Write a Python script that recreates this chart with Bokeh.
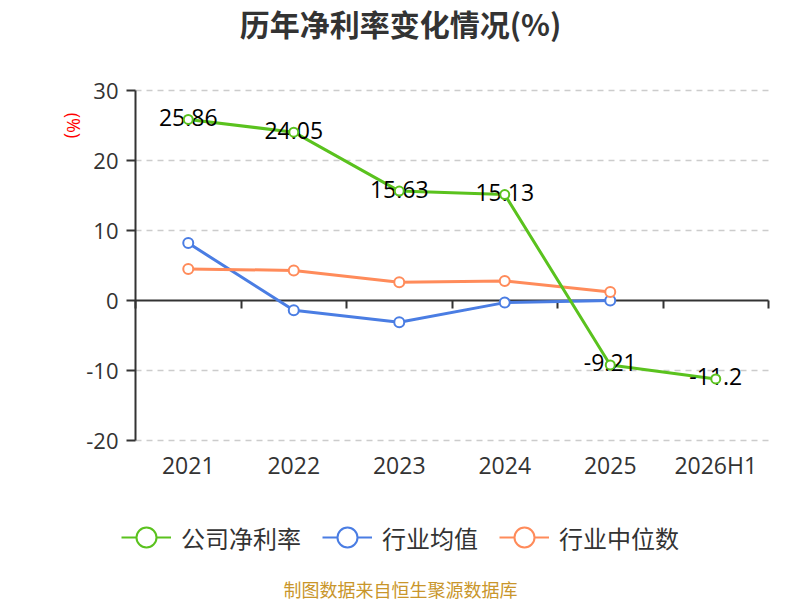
import numpy as np
from bokeh.plotting import figure
from bokeh.models import (Range1d, FixedTicker, LinearAxis, Label, Legend, LegendItem, Grid)
from bokeh.embed import file_html
from bokeh.resources import INLINE

# ---------------- data ----------------
categories = ["2021", "2022", "2023", "2024", "2025", "2026H1"]
company_net_margin = [25.86, 24.05, 15.63, 15.13, -9.21, -11.2]
industry_mean = [8.2, -1.4, -3.1, -0.3, 0.0]
industry_median = [4.5, 4.3, 2.6, 2.8, 1.2]
y_ticks = [-20, -10, 0, 10, 20, 30]
series_names = ["公司净利率", "行业均值", "行业中位数"]
title_text = "历年净利率变化情况(%)"
unit_text = "(%)"
source_text = "制图数据来自恒生聚源数据库"

# ---------------- style ----------------
GREEN = "#5ac21e"
BLUE = "#4a7de3"
ORANGE = "#ff8b5a"
TXT = "#333333"
CJK = "Noto Sans CJK SC"
NUM = "Open Sans"

W, H = 800, 600
# plot area (axes box) in page px
AL, AR, AT, AB = 135, 768, 90, 440
YMIN, YMAX = y_ticks[0], y_ticks[-1]
NCAT = len(categories)
px_x = (AR - AL) / NCAT
px_y = (AB - AT) / (YMAX - YMIN)

def dx(page_x):
    return (page_x - AL) / px_x

def dy(page_y):
    return YMAX - (page_y - AT) / px_y

p = figure(width=W, height=H, output_backend="svg", toolbar_location=None,
           x_range=Range1d(dx(0), dx(W)), y_range=Range1d(dy(H), dy(0)),
           min_border=0, x_axis_type=None, y_axis_type=None)
p.outline_line_color = None
p.background_fill_color = "white"
p.border_fill_color = "white"

xs = np.arange(NCAT) + 0.5

# grid
grid = Grid(dimension=1, ticker=FixedTicker(ticks=[t for t in y_ticks if t != 0]),
            bounds=(YMIN, YMAX), cross_bounds=(0, NCAT))
grid.grid_line_color = "#cccccc"
grid.grid_line_dash = "6 5"
grid.grid_line_width = 1.5
p.add_layout(grid)

# y axis
yax = LinearAxis(fixed_location=0, bounds=(YMIN, YMAX), ticker=FixedTicker(ticks=y_ticks),
                 major_label_overrides={float(t): str(t) for t in y_ticks})
yax.axis_line_color = TXT
yax.axis_line_width = 2
yax.major_tick_line_color = TXT
yax.major_tick_line_width = 2
yax.major_tick_out = 9
yax.major_tick_in = 0
yax.minor_tick_line_color = None
yax.major_label_standoff = 8
yax.major_label_text_font = NUM
yax.major_label_text_font_size = "22px"
yax.major_label_text_color = TXT
p.add_layout(yax, "left")

# category labels
xax = LinearAxis(fixed_location=YMIN, ticker=FixedTicker(ticks=list(xs)),
                 major_label_overrides={float(x): c for x, c in zip(xs, categories)})
xax.axis_line_color = None
xax.major_tick_line_color = None
xax.minor_tick_line_color = None
xax.major_tick_out = 0
xax.major_tick_in = 0
xax.major_label_standoff = 8
xax.major_label_text_font = NUM
xax.major_label_text_font_size = "23px"
xax.major_label_text_color = TXT
p.add_layout(xax, "below")

# zero line with downward ticks at category boundaries
bounds = list(range(NCAT + 1))
zax = LinearAxis(fixed_location=0, bounds=(0, NCAT), ticker=FixedTicker(ticks=bounds),
                 major_label_overrides={float(b): "" for b in bounds})
zax.axis_line_color = TXT
zax.axis_line_width = 2
zax.major_tick_line_color = TXT
zax.major_tick_line_width = 2
zax.major_tick_out = 8
zax.major_tick_in = 0
zax.minor_tick_line_color = None
zax.major_label_text_font_size = "1px"
zax.level = "underlay"
p.add_layout(zax, "below")

# series
n_ind = len(industry_mean)
l_blue = p.line(xs[:n_ind], industry_mean, line_color=BLUE, line_width=3)
l_orange = p.line(xs[:n_ind], industry_median, line_color=ORANGE, line_width=3)
l_green = p.line(xs, company_net_margin, line_color=GREEN, line_width=3)

p.text(xs, company_net_margin, text=[str(v) for v in company_net_margin],
       text_align="center", text_baseline="middle", text_font_size="23px",
       text_font={"value": NUM}, text_color="black", y_offset=-2)

s_blue = p.scatter(xs[:n_ind], industry_mean, size=10, fill_color="white",
                   line_color=BLUE, line_width=2)
s_orange = p.scatter(xs[:n_ind], industry_median, size=10, fill_color="white",
                     line_color=ORANGE, line_width=2)
s_green = p.scatter(xs, company_net_margin, size=9, fill_color="white",
                    line_color=GREEN, line_width=2)

# legend keys (thinner line, as in the reference legend; no visible data)
legend_keys = []
for c in (GREEN, BLUE, ORANGE):
    lk = p.line([0], [np.nan], line_color=c, line_width=2)
    sk = p.scatter([0], [np.nan], fill_color="white", line_color=c, line_width=2)
    legend_keys.append([lk, sk])

GH = 54
legend = Legend(items=[LegendItem(label=n, renderers=r)
                       for n, r in zip(series_names, legend_keys)],
                orientation="horizontal", location=(121, H - 537 - GH / 2))
legend.label_text_font = CJK
legend.label_text_font_size = "24px"
legend.label_text_color = TXT
legend.glyph_width = 50
legend.glyph_height = GH
legend.label_height = GH
legend.label_standoff = 10
legend.spacing = 21
legend.padding = 0
legend.margin = 0
legend.border_line_color = None
legend.background_fill_alpha = 0
p.add_layout(legend, "center")

# texts around the plot area
p.add_layout(Label(x=dx(400), y=dy(22), text=title_text, text_align="center",
                   text_baseline="middle", text_font=CJK, text_font_size="30px",
                   text_font_style="bold", text_color=TXT))
p.add_layout(Label(x=dx(73), y=dy(125), text=unit_text, text_align="center",
                   text_baseline="middle", text_font=NUM, text_font_size="18px",
                   text_color="red", angle=-np.pi / 2))
p.add_layout(Label(x=dx(400), y=dy(588), text=source_text, text_align="center",
                   text_baseline="middle", text_font=CJK, text_font_size="18px",
                   text_color="#c9962b"))

open("out.html", "w").write(file_html(p, INLINE))
